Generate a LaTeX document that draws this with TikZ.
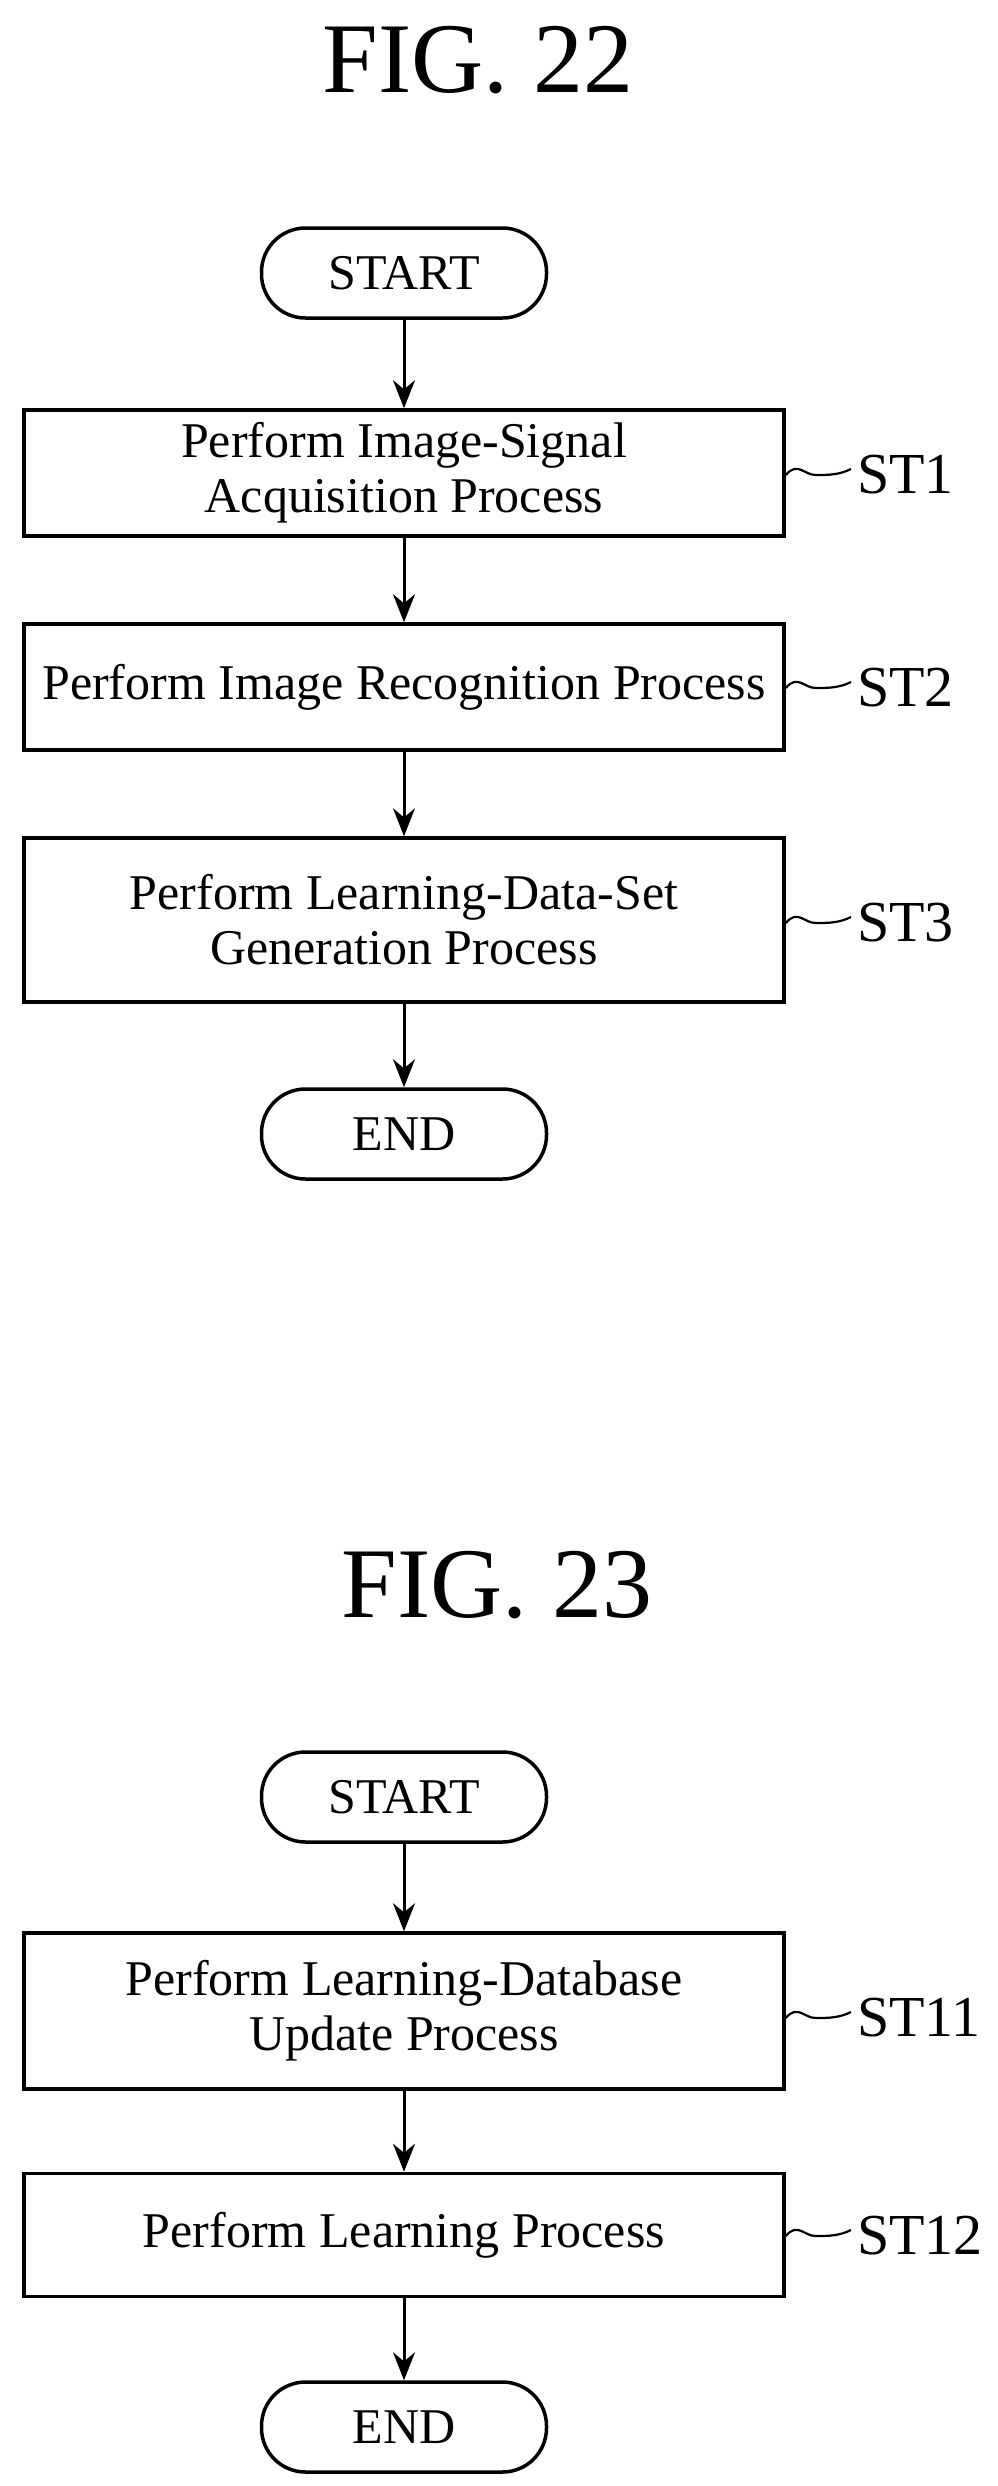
\documentclass[tikz,border=0pt]{standalone}
\usepackage{fontspec}
\setmainfont{Liberation Serif}
\usetikzlibrary{arrows.meta,calc}
\begin{document}
\begin{tikzpicture}[x=1pt,y=-1pt,
  term/.style={draw,line width=3.5pt,rounded corners=44pt,minimum width=285pt,minimum height=90pt,inner sep=0pt,font=\fontsize{50}{56}\selectfont},
  stepbox/.style={draw,line width=3.5pt,minimum width=760pt,inner sep=0pt,align=center,font=\fontsize{50}{55}\selectfont},
  lab/.style={anchor=west,inner sep=0pt,font=\fontsize{58}{64}\selectfont},
  title/.style={font=\fontsize{100}{108}\selectfont},
  arr/.style={-{Stealth[length=28pt,width=22pt]},line width=3pt},
  sq/.style={line width=2.2pt}]
\useasboundingbox (0,0) rectangle (998,2486);
\node[title] (t1) at (478,60) {FIG. 22};
\node[term] (s1) at (404,273) {START};
\node[stepbox,minimum height=126pt] (b1) at (404,473) {Perform Image-Signal\\Acquisition Process};
\node[stepbox,minimum height=126pt] (b2) at (404,687) {Perform Image Recognition Process};
\node[stepbox,minimum height=164pt] (b3) at (404,920) {Perform Learning-Data-Set\\Generation Process};
\node[term] (e1) at (404,1134) {END};
\draw[arr] (s1) -- (b1);
\draw[arr] (b1) -- (b2);
\draw[arr] (b2) -- (b3);
\draw[arr] (b3) -- (e1);
\node[lab] (l1) at (857,475) {ST1};
\node[lab] (l2) at (857,688) {ST2};
\node[lab] (l3) at (857,923) {ST3};
\node[title] (t2) at (497,1585) {FIG. 23};
\node[term] (s2) at (404,1797) {START};
\node[stepbox,minimum height=156pt] (b11) at (404,2011) {Perform Learning-Database\\Update Process};
\node[stepbox,minimum height=123pt] (b12) at (404,2235) {Perform Learning Process};
\node[term] (e2) at (404,2427) {END};
\draw[arr] (s2) -- (b11);
\draw[arr] (b11) -- (b12);
\draw[arr] (b12) -- (e2);
\node[lab] (l11) at (857,2018) {ST11};
\node[lab] (l12) at (857,2236) {ST12};
\foreach \b/\l in {b1/l1,b2/l2,b3/l3,b11/l11,b12/l12}{
  \draw[sq] (\b.east |- \l.west) .. controls +(12,-14) and +(-12,0) .. ($(\b.east |- \l.west)+(30,0)$) .. controls +(12,0) and +(-12,6) .. ($(\l.west)+(-6,-6)$);
}
\end{tikzpicture}
\end{document}
